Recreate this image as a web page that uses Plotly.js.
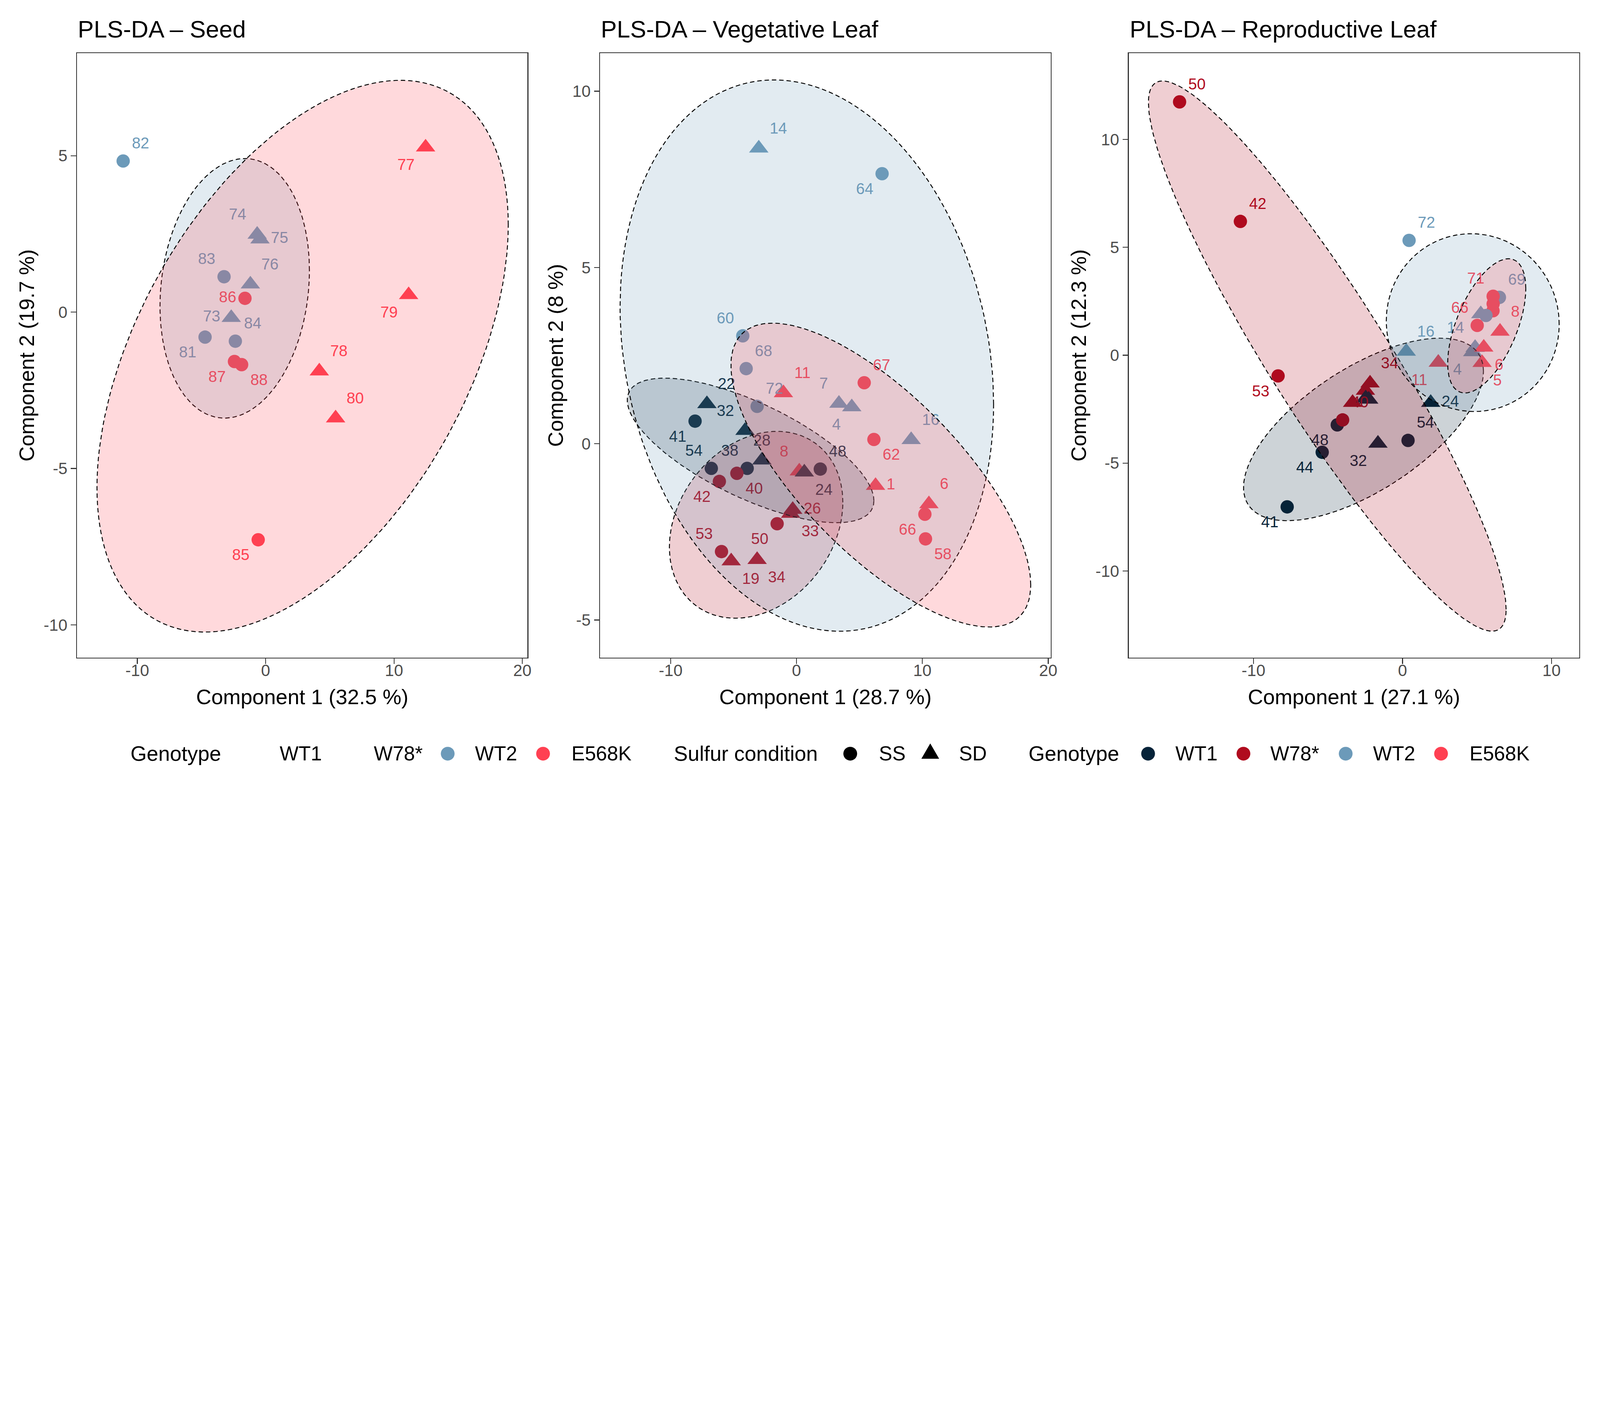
<!DOCTYPE html>
<html>
<head>
<meta charset="utf-8">
<script src="https://cdn.plot.ly/plotly-3.0.1.min.js"></script>
<style>
  html, body { margin: 0; padding: 0; background: #fff; overflow: hidden; }
</style>
</head>
<body>
<div id="chart"></div>
<script>
// ---- values ----
const genotypes = ["WT1", "W78*", "WT2", "E568K"];
const conditions = ["SS", "SD"];

// Seed
const seedId   = ["82", "77", "74", "75", "83", "76", "86", "79", "73", "81", "84", "87", "88", "78", "80", "85"];
const seedX    = [-11.1, 12.46, -0.66, -0.44, -3.24, -1.19, -1.61, 11.14, -2.68, -4.72, -2.36, -2.43, -1.87, 4.18, 5.45, -0.58];
const seedY    = [4.83, 5.27, 2.48, 2.33, 1.13, 0.89, 0.44, 0.55, -0.18, -0.80, -0.93, -1.58, -1.68, -1.89, -3.39, -7.28];
const seedGeno = ["WT2", "E568K", "WT2", "WT2", "WT2", "WT2", "E568K", "E568K", "WT2", "WT2", "WT2", "E568K", "E568K", "E568K", "E568K", "E568K"];
const seedCond = ["SS", "SD", "SD", "SD", "SS", "SD", "SS", "SD", "SD", "SS", "SS", "SS", "SS", "SD", "SD", "SS"];

// Vegetative leaf
const vegId   = ["14", "64", "60", "68", "72", "67", "11", "7", "4", "22", "41", "32", "62", "16", "28", "54",
                 "38", "40", "42", "8", "24", "48", "1", "6", "66", "58", "26", "33", "50", "53", "19", "34"];
const vegX    = [-3.0, 6.80, -4.27, -4.0, -3.13, 5.38, -1.04, 3.37, 4.39, -7.12, -8.06, -4.09, 6.15, 9.11, -2.75, -6.77,
                 -3.92, -4.74, -6.13, 0.22, 0.62, 1.89, 6.28, 10.52, 10.2, 10.25, -0.30, -0.47, -1.54, -5.96, -5.19, -3.13];
const vegY    = [8.38, 7.66, 3.06, 2.13, 1.06, 1.73, 1.44, 1.14, 1.04, 1.13, 0.64, 0.37, 0.12, 0.11, -0.47, -0.70,
                 -0.70, -0.84, -1.07, -0.78, -0.81, -0.72, -1.19, -1.71, -2.0, -2.70, -1.87, -1.98, -2.27, -3.06, -3.33, -3.29];
const vegGeno = ["WT2", "WT2", "WT2", "WT2", "WT2", "E568K", "E568K", "WT2", "WT2", "WT1", "WT1", "WT1", "E568K", "WT2", "WT1", "WT1",
                 "WT1", "W78*", "W78*", "E568K", "WT1", "WT1", "E568K", "E568K", "E568K", "E568K", "W78*", "W78*", "W78*", "W78*", "W78*", "W78*"];
const vegCond = ["SD", "SS", "SS", "SS", "SS", "SS", "SD", "SD", "SD", "SD", "SS", "SD", "SS", "SD", "SD", "SS",
                 "SS", "SS", "SS", "SD", "SD", "SS", "SD", "SD", "SS", "SS", "SD", "SD", "SS", "SS", "SD", "SD"];

// Reproductive leaf ("" = point whose label was dropped)
const repId   = ["50", "42", "72", "53", "41", "44", "48", "40", "", "", "34", "", "", "32", "54", "24",
                 "16", "11", "4", "14", "6", "5", "8", "66", "69", "", "", "71", "", ""];
const repX    = [-14.96, -10.88, 0.44, -8.35, -7.74, -5.39, -4.38, -4.02, -3.35, -2.49, -2.18, -2.47, -2.27, -1.65, 0.37, 1.89,
                 0.25, 2.40, 4.71, 4.87, 5.45, 5.34, 6.54, 5.01, 6.50, 6.07, 6.08, 6.08, 5.25, 5.60];
const repY    = [11.74, 6.20, 5.32, -0.96, -7.03, -4.50, -3.23, -3.0, -2.20, -1.64, -1.30, -1.99, -2.05, -4.09, -3.95, -2.20,
                 0.17, -0.34, 0.15, 0.35, 0.36, -0.35, 1.10, 1.38, 2.68, 2.06, 2.38, 2.73, 1.91, 1.84];
const repGeno = ["W78*", "W78*", "WT2", "W78*", "WT1", "WT1", "WT1", "W78*", "W78*", "W78*", "W78*", "WT1", "WT1", "WT1", "WT1", "WT1",
                 "WT2", "E568K", "WT2", "WT2", "E568K", "E568K", "E568K", "E568K", "WT2", "E568K", "E568K", "E568K", "WT2", "WT2"];
const repCond = ["SS", "SS", "SS", "SS", "SS", "SS", "SS", "SS", "SD", "SD", "SD", "SD", "SD", "SD", "SS", "SD",
                 "SD", "SD", "SD", "SD", "SD", "SD", "SD", "SS", "SS", "SS", "SS", "SS", "SD", "SS"];

// 95 % ellipses: centre, half-extent along x and y, and correlation
const seedEllGeno = ["WT2", "E568K"];
const seedEllCx   = [-2.41, 2.88];
const seedEllCy   = [0.76, -1.41];
const seedEllRx   = [5.82, 16.02];
const seedEllRy   = [4.15, 8.82];
const seedEllRho  = [0.137, 0.476];

const vegEllGeno = ["WT1", "W78*", "WT2", "E568K"];
const vegEllCx   = [-3.65, -3.21, 0.82, 6.7];
const vegEllCy   = [-0.19, -2.3, 2.5, -0.89];
const vegEllRx   = [9.8, 6.89, 14.84, 11.91];
const vegEllRy   = [2.05, 2.65, 7.82, 4.31];
const vegEllRho  = [-0.696, 0.24, -0.176, -0.723];

const repEllGeno = ["WT1", "W78*", "WT2", "E568K"];
const repEllCx   = [-2.62, -5.05, 4.71, 5.65];
const repEllCy   = [-3.44, -0.04, 1.51, 1.36];
const repEllRx   = [8.05, 12.0, 5.80, 2.62];
const repEllRy   = [4.23, 12.75, 4.12, 3.11];
const repEllRho  = [0.637, -0.921, -0.019, 0.557];

// axis labels
const panelTitles = ["PLS-DA \u2013 Seed", "PLS-DA \u2013 Vegetative Leaf", "PLS-DA \u2013 Reproductive Leaf"];
const xTitles = ["Component 1 (32.5 %)", "Component 1 (28.7 %)", "Component 1 (27.1 %)"];
const yTitles = ["Component 2 (19.7 %)", "Component 2 (8 %)", "Component 2 (12.3 %)"];
const xTickVals = [[-10, 0, 10, 20], [-10, 0, 10, 20], [-10, 0, 10]];
const xTickText = [["-10", "0", "10", "20"], ["-10", "0", "10", "20"], ["-10", "0", "10"]];
const yTickVals = [[-10, -5, 0, 5], [-5, 0, 5, 10], [-10, -5, 0, 5, 10]];
const yTickText = [["-10", "-5", "0", "5"], ["-5", "0", "5", "10"], ["-10", "-5", "0", "5", "10"]];

// ---- presentation ----
const FONT = "Liberation Sans, Arial, Helvetica, sans-serif";
const genoColor = { "WT1": "#062339", "W78*": "#B00B1E", "WT2": "#6C9AB9", "E568K": "#FF4052" };
const condSymbol = { "SS": "circle", "SD": "triangle-up" };

const seedLabelPos = ["top right", "bottom left", "top left", "middle right", "top left", "top right", "middle left", "bottom left",
                      "middle left", "bottom left", "top right", "bottom left", "bottom right", "top right", "top right", "bottom left"];
const vegLabelPos = ["top right", "bottom left", "top left", "top right", "top right", "top right", "top right", "top left",
                     "bottom left", "top right", "bottom left", "top left", "bottom right", "top right", "top center", "top left",
                     "top left", "bottom right", "bottom left", "top left", "bottom right", "top right", "middle right", "top right",
                     "bottom left", "bottom right", "middle right", "bottom right", "bottom left", "top left", "bottom right", "bottom right"];
const repLabelPos = ["top right", "top right", "top right", "bottom left", "bottom left", "bottom left", "bottom left", "top right",
                     "top right", "top right", "top right", "top right", "top right", "bottom left", "top right", "middle right",
                     "top right", "bottom left", "bottom left", "top left", "bottom right", "bottom right", "top right", "top left",
                     "top right", "top right", "top right", "top left", "top right", "top right"];

// page geometry, designed on a 7200 x 3600 canvas and scaled to the window
const BASE_W = 7200, BASE_H = 3600;
const S = Math.min((window.innerWidth || BASE_W) / BASE_W, (window.innerHeight || BASE_H) / BASE_H) || 1;
const s = (v) => v * S;
const W = Math.round(s(BASE_W)), H = Math.round(s(BASE_H));
const M = { l: 347, r: 94, t: 239, b: 640 };
const plotW = BASE_W - M.l - M.r, plotH = BASE_H - M.t - M.b;
const panelLeft  = [347, 2701, 5079];
const panelRight = [2374, 4728, 7106];
const xRanges = [[-14.7, 20.4], [-15.6, 20.2], [-18.37, 11.86]];
const yRanges = [[-11.05, 8.28], [-6.07, 11.08], [-14.02, 14.0]];
const condSize = { "SS": s(60), "SD": s(76) };

const px2fx = (px) => (px - M.l) / plotW;
const py2fy = (py) => (BASE_H - M.b - py) / plotH;

function rgba(hex, a) {
  const n = parseInt(hex.slice(1), 16);
  return `rgba(${(n >> 16) & 255},${(n >> 8) & 255},${n & 255},${a})`;
}

function pointTrace(ids, xs, ys, geno, cond, pos, ax) {
  const cols = geno.map((g) => genoColor[g]);
  return {
    type: "scatter", mode: "markers+text", xaxis: ax[0], yaxis: ax[1],
    x: xs, y: ys, text: ids, textposition: pos,
    textfont: { family: FONT, size: s(70), color: cols },
    marker: { color: cols, opacity: 1, symbol: cond.map((c) => condSymbol[c]), size: cond.map((c) => condSize[c]), line: { width: 0 } },
    showlegend: false, hoverinfo: "skip",
  };
}

function ellipseTraces(gs, cxs, cys, rxs, rys, rhos, ax) {
  return gs.map((g, i) => {
    const xs = [], ys = [];
    const q = Math.sqrt(1 - rhos[i] * rhos[i]);
    for (let k = 0; k <= 160; k++) {
      const t = (2 * Math.PI * k) / 160;
      xs.push(cxs[i] + rxs[i] * Math.cos(t));
      ys.push(cys[i] + rys[i] * (rhos[i] * Math.cos(t) + q * Math.sin(t)));
    }
    return {
      type: "scatter", mode: "lines", xaxis: ax[0], yaxis: ax[1], x: xs, y: ys,
      fill: "toself", fillcolor: rgba(genoColor[g], 0.2),
      line: { color: "#000000", width: s(4.2), dash: `${s(20)}px,${s(13)}px` },
      showlegend: false, hoverinfo: "skip",
    };
  });
}

const axes = [["x", "y"], ["x2", "y2"], ["x3", "y3"]];
const data = [
  pointTrace(seedId, seedX, seedY, seedGeno, seedCond, seedLabelPos, axes[0]),
  ...ellipseTraces(seedEllGeno, seedEllCx, seedEllCy, seedEllRx, seedEllRy, seedEllRho, axes[0]),
  pointTrace(vegId, vegX, vegY, vegGeno, vegCond, vegLabelPos, axes[1]),
  ...ellipseTraces(vegEllGeno, vegEllCx, vegEllCy, vegEllRx, vegEllRy, vegEllRho, axes[1]),
  pointTrace(repId, repX, repY, repGeno, repCond, repLabelPos, axes[2]),
  ...ellipseTraces(repEllGeno, repEllCx, repEllCy, repEllRx, repEllRy, repEllRho, axes[2]),
];

// legend row, drawn by hand so the keys keep their full size
const LEG_Y = 3392;
const legendTitles = [["Genotype", 584], ["Sulfur condition", 3028], ["Genotype", 4624]];
const legendItems = [
  { label: "WT1", textX: 1256, key: null },
  { label: "W78*", textX: 1679, key: null },
  { label: "WT2", textX: 2134, key: { x: 2015, color: genoColor["WT2"], cond: "SS" } },
  { label: "E568K", textX: 2568, key: { x: 2444, color: genoColor["E568K"], cond: "SS" } },
  { label: conditions[0], textX: 3952, key: { x: 3826, color: "#000000", cond: "SS" } },
  { label: conditions[1], textX: 4312, key: { x: 4186, color: "#000000", cond: "SD" } },
  ...genotypes.map((g, i) => ({ label: g, textX: [5285, 5712, 6174, 6608][i],
    key: { x: [5166, 5595, 6055, 6484][i], color: genoColor[g], cond: "SS" } })),
];

const shapes = legendItems.filter((it) => it.key).map((it) => {
  const base = { xref: "paper", yref: "paper", xsizemode: "pixel", ysizemode: "pixel",
    xanchor: px2fx(it.key.x), yanchor: py2fy(LEG_Y), fillcolor: it.key.color, line: { width: 0 }, layer: "above" };
  if (it.key.cond === "SS") {
    return { ...base, type: "circle", x0: -s(31), x1: s(31), y0: -s(31), y1: s(31) };
  }
  return { ...base, type: "path", path: `M${-s(40)},${-s(23)}L${s(40)},${-s(23)}L0,${s(46)}Z` };
});

const annotations = [];
panelTitles.forEach((t, i) => {
  annotations.push({ xref: "paper", yref: "paper", x: px2fx(panelLeft[i]), y: py2fy(131), xanchor: "left", yanchor: "middle",
    text: t, showarrow: false, font: { family: FONT, size: s(108), color: "#000000" } });
});
legendTitles.forEach(([t, px]) => {
  annotations.push({ xref: "paper", yref: "paper", x: px2fx(px), y: py2fy(LEG_Y), xanchor: "left", yanchor: "middle",
    text: t, showarrow: false, font: { family: FONT, size: s(94), color: "#000000" } });
});
legendItems.forEach((it) => {
  annotations.push({ xref: "paper", yref: "paper", x: px2fx(it.textX), y: py2fy(LEG_Y), xanchor: "left", yanchor: "middle",
    text: it.label, showarrow: false, font: { family: FONT, size: s(90), color: "#000000" } });
});

const layout = {
  width: W, height: H,
  margin: { l: s(M.l), r: s(M.r), t: s(M.t), b: s(M.b) },
  paper_bgcolor: "#ffffff", plot_bgcolor: "#ffffff",
  font: { family: FONT, color: "#000000" },
  showlegend: false,
  annotations, shapes,
};

for (let i = 0; i < 3; i++) {
  const sfx = i === 0 ? "" : String(i + 1);
  const common = {
    showgrid: false, zeroline: false, showline: true, mirror: true, linecolor: "#333333", linewidth: s(4),
    ticks: "outside", ticklen: s(24), tickwidth: s(4), tickcolor: "#333333",
    tickfont: { family: FONT, size: s(74), color: "#4D4D4D" }, tickmode: "array", fixedrange: true,
  };
  layout["xaxis" + sfx] = {
    ...common, domain: [px2fx(panelLeft[i]), px2fx(panelRight[i])], range: xRanges[i], anchor: "y" + sfx,
    tickvals: xTickVals[i], ticktext: xTickText[i], ticklabelstandoff: Math.round(-s(34)),
    title: { text: xTitles[i], font: { family: FONT, size: s(95), color: "#000000" }, standoff: s(45) },
  };
  layout["yaxis" + sfx] = {
    ...common, domain: [0, 1], range: yRanges[i], anchor: "x" + sfx,
    tickvals: yTickVals[i], ticktext: yTickText[i],
    title: { text: yTitles[i], font: { family: FONT, size: s(95), color: "#000000" }, standoff: s(12) },
  };
}

Plotly.newPlot("chart", data, layout, { staticPlot: true, displayModeBar: false });
</script>
</body>
</html>
